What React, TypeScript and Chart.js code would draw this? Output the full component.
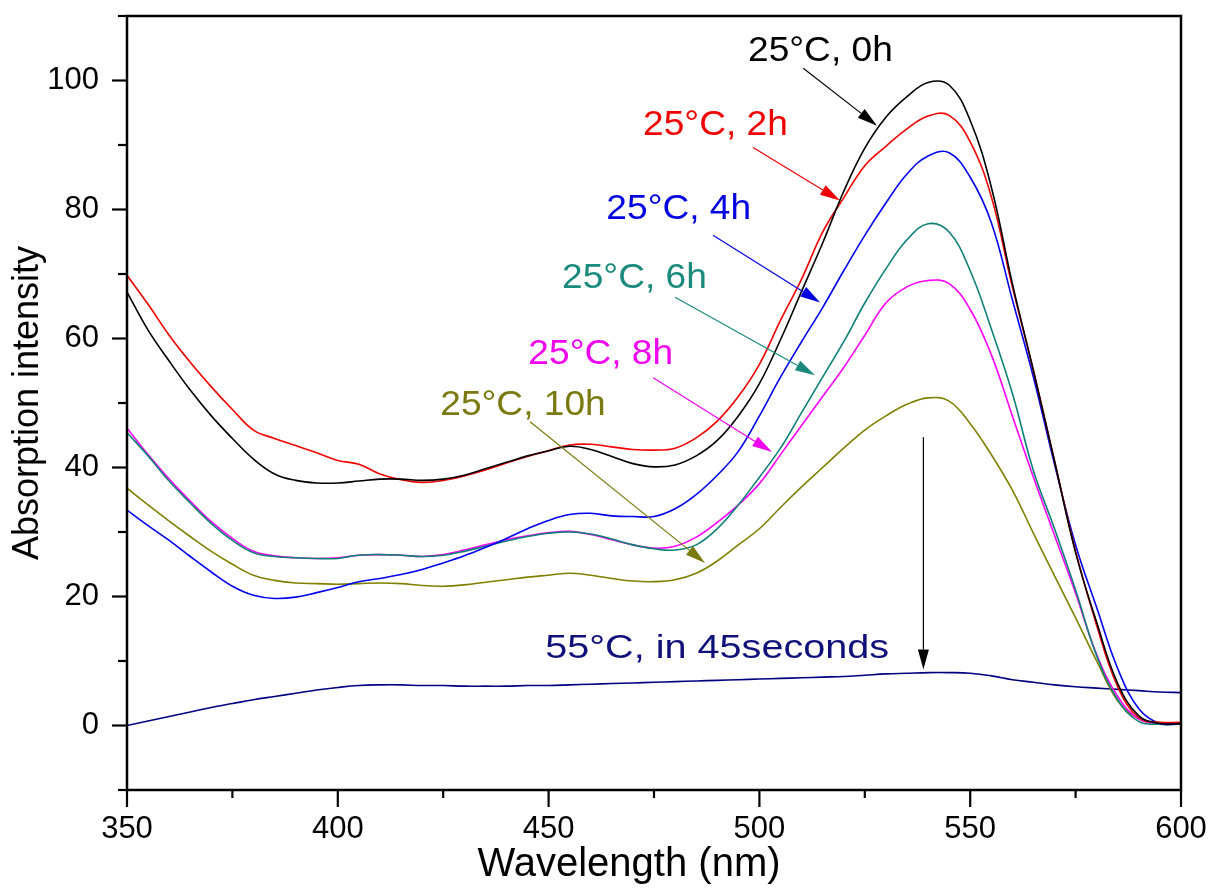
import { useEffect, useRef } from "react";
import { Chart, registerables } from "chart.js";

Chart.register(...registerables);

// ---------- data ----------
const WAVELENGTHS = [
  350, 355, 360, 365, 370, 375, 380, 385, 390, 395,
  400, 405, 410, 415, 420, 425, 430, 435, 440, 445,
  450, 455, 460, 465, 470, 475, 480, 485, 490, 495,
  500, 505, 510, 515, 520, 525, 530, 535, 540, 545,
  550, 555, 560, 565, 570, 575, 580, 585, 590, 595, 600,
];

const ABS_25C_0H = [
  67.2, 61.3, 56.5, 52.0, 48.0, 44.5, 41.3, 39.0, 38.0, 37.6,
  37.6, 37.9, 38.2, 38.2, 38.0, 38.2, 38.8, 39.8, 40.8, 41.8,
  42.6, 43.3, 42.8, 41.7, 40.6, 40.1, 40.4, 41.8, 44.2, 48.0,
  53.0, 59.8, 67.3, 74.8, 82.8, 89.5, 94.3, 97.5, 99.7, 99.3,
  93.8, 83.5, 68.5, 55.0, 41.0, 26.8, 16.0, 6.5, 1.5, 0.3, 0.3,
];

const ABS_25C_2H = [
  69.8, 65.3, 60.5, 56.3, 52.5, 49.0, 45.8, 44.5, 43.4, 42.3,
  41.1, 40.5, 39.0, 38.1, 37.7, 38.0, 38.7, 39.6, 40.7, 41.7,
  42.6, 43.5, 43.6, 43.2, 42.8, 42.7, 43.0, 44.6, 47.2, 51.0,
  56.0, 62.8, 69.2, 76.5, 81.8, 86.8, 89.8, 92.5, 94.5, 94.6,
  90.5, 82.0, 68.0, 55.0, 41.0, 27.0, 15.5, 6.0, 1.2, 0.5, 0.5,
];

const ABS_25C_4H = [
  33.4, 31.0, 28.7, 26.2, 23.8, 21.6, 20.2, 19.7, 19.9, 20.6,
  21.4, 22.3, 22.8, 23.4, 24.2, 25.2, 26.3, 27.6, 29.0, 30.5,
  31.8, 32.7, 32.9, 32.5, 32.4, 32.4, 33.6, 35.8, 38.8, 42.5,
  48.0, 54.0, 59.5, 64.8, 70.5, 76.0, 81.0, 85.5, 88.3, 88.8,
  85.0, 78.0, 66.0, 54.0, 40.5, 28.0, 18.3, 8.8, 2.6, 0.3, 0.3,
];

const ABS_25C_6H = [
  45.4, 41.8, 37.9, 34.5, 31.3, 28.7, 26.8, 26.2, 26.0, 25.9,
  25.9, 26.4, 26.5, 26.4, 26.2, 26.4, 27.0, 27.8, 28.6, 29.3,
  29.8, 30.0, 29.7, 28.9, 28.0, 27.4, 27.2, 28.0, 30.5, 34.2,
  38.5, 43.0, 48.5, 54.0, 59.5, 65.5, 70.8, 75.3, 77.8, 76.5,
  70.5, 61.5, 51.5, 39.5, 30.5, 21.0, 10.8, 4.0, 0.6, 0.2, 0.2,
];

const ABS_25C_8H = [
  46.1, 42.0, 38.2, 34.8, 31.6, 29.0, 27.0, 26.3, 26.0, 25.9,
  26.0, 26.4, 26.5, 26.4, 26.2, 26.5, 27.2, 28.0, 28.8, 29.4,
  29.9, 30.1, 29.6, 28.8, 28.0, 27.5, 27.8, 29.2, 31.5, 34.2,
  37.5, 42.0, 46.5, 51.0, 55.5, 60.5, 65.5, 68.0, 69.0, 68.5,
  64.5, 57.5, 48.0, 38.5, 29.5, 20.5, 11.0, 4.5, 1.0, 0.3, 0.3,
];

const ABS_25C_10H = [
  36.8, 34.2, 31.7, 29.3, 27.0, 25.0, 23.3, 22.5, 22.1, 22.0,
  21.9, 22.0, 22.1, 22.0, 21.7, 21.6, 21.8, 22.2, 22.6, 23.0,
  23.3, 23.6, 23.3, 22.8, 22.4, 22.3, 22.6, 23.6, 25.5, 28.0,
  30.5, 33.8, 37.0, 40.0, 43.0, 45.8, 48.0, 49.8, 50.8, 50.3,
  46.8, 42.0, 36.5, 29.8, 23.2, 16.7, 10.0, 3.8, 1.0, 0.3, 0.3,
];

const ABS_55C_45S = [
  0.0, 0.7, 1.4, 2.1, 2.8, 3.4, 4.0, 4.5, 5.0, 5.5,
  5.9, 6.2, 6.3, 6.3, 6.2, 6.2, 6.1, 6.1, 6.1, 6.2,
  6.2, 6.3, 6.4, 6.5, 6.6, 6.7, 6.8, 6.9, 7.0, 7.1,
  7.2, 7.3, 7.4, 7.5, 7.6, 7.8, 8.0, 8.1, 8.2, 8.2,
  8.1, 7.7, 7.1, 6.7, 6.3, 6.0, 5.8, 5.6, 5.4, 5.2, 5.1,
];

const SERIES_NAMES = [
  "25°C, 0h",
  "25°C, 2h",
  "25°C, 4h",
  "25°C, 6h",
  "25°C, 8h",
  "25°C, 10h",
  "55°C, in 45seconds",
];

const X_TICK_LABELS = ["350", "400", "450", "500", "550", "600"];
const Y_TICK_LABELS = ["0", "20", "40", "60", "80", "100"];

const X_TITLE = "Wavelength (nm)";
const Y_TITLE = "Absorption intensity";

// annotation label anchors (data units) and arrows (data units)
const LABEL_X = [497.3, 472.4, 463.7, 453.2, 445.2, 424.3, 449.2];
const LABEL_Y = [103.1, 91.5, 78.6, 67.8, 56.1, 48.1, 10.5];
const ARROW_FROM_X = [510.4, 498.5, 489.0, 480.0, 474.8, 445.6, 538.9];
const ARROW_FROM_Y = [101.9, 89.6, 76.0, 66.4, 53.9, 47.1, 44.7];
const ARROW_TO_X = [527.9, 519.1, 514.4, 513.2, 503.0, 487.1, 538.9];
const ARROW_TO_Y = [93.0, 81.4, 65.6, 54.3, 42.4, 25.2, 8.7];

// ---------- styles ----------
const FONT = '"Liberation Sans", Arial, Helvetica, sans-serif';
const LINE_COLORS = ["#000000", "#f00000", "#0000f0", "#0e8078", "#ff00ff", "#808000", "#000080"];
const LABEL_COLORS = ["#000000", "#f00000", "#0000e0", "#1a8a7c", "#f000f0", "#7a7a10", "#10107a"];
const ARROW_COLORS = ["#000000", "#f00000", "#0000e0", "#1a8a7c", "#f000f0", "#7a7a10", "#000000"];
const LABEL_SIZES = [35, 35, 35, 35, 35, 35, 33];
const LABEL_STRETCH = [1.06, 1.06, 1.06, 1.06, 1.06, 1.06, 1.2];

const X_MIN = 350, X_MAX = 600, X_MINOR = 25, X_MAJOR = 50;
const Y_MIN = -10, Y_MAX = 110, Y_MINOR = 10, Y_MAJOR = 20;

function drawArrow(ctx: CanvasRenderingContext2D, x1: number, y1: number, x2: number, y2: number, color: string) {
  const ang = Math.atan2(y2 - y1, x2 - x1);
  const headLen = 20;
  const headW = 5.5;
  const bx = x2 - headLen * Math.cos(ang);
  const by = y2 - headLen * Math.sin(ang);
  ctx.strokeStyle = color;
  ctx.lineWidth = 1.2;
  ctx.beginPath();
  ctx.moveTo(x1, y1);
  ctx.lineTo(bx, by);
  ctx.stroke();
  ctx.fillStyle = color;
  ctx.beginPath();
  ctx.moveTo(x2, y2);
  ctx.lineTo(bx + headW * Math.sin(ang), by - headW * Math.cos(ang));
  ctx.lineTo(bx - headW * Math.sin(ang), by + headW * Math.cos(ang));
  ctx.closePath();
  ctx.fill();
}

const overlayPlugin = {
  id: "overlay",
  afterDraw(chart: any) {
    const { ctx, chartArea: a, scales } = chart;
    const xs = scales.x;
    const ys = scales.y;
    ctx.save();
    // frame
    ctx.strokeStyle = "#000";
    ctx.lineWidth = 2.5;
    ctx.strokeRect(a.left, a.top, a.right - a.left, a.bottom - a.top);
    // y ticks (outward)
    ctx.lineWidth = 2.2;
    for (let v = Y_MIN; v <= Y_MAX; v += Y_MINOR) {
      const py = ys.getPixelForValue(v);
      const len = v % Y_MAJOR === 0 ? 15 : 9;
      ctx.beginPath();
      ctx.moveTo(a.left - len, py);
      ctx.lineTo(a.left, py);
      ctx.stroke();
    }
    // x ticks (outward)
    for (let v = X_MIN; v <= X_MAX; v += X_MINOR) {
      const px = xs.getPixelForValue(v);
      const len = (v - X_MIN) % X_MAJOR === 0 ? 17 : 8;
      ctx.beginPath();
      ctx.moveTo(px, a.bottom);
      ctx.lineTo(px, a.bottom + len);
      ctx.stroke();
    }
    // x axis title
    ctx.font = `40px ${FONT}`;
    ctx.fillStyle = "#000";
    ctx.textAlign = "center";
    ctx.textBaseline = "middle";
    ctx.fillText(X_TITLE, (a.left + a.right) / 2 - 25, a.bottom + 75);
    // arrows
    for (let i = 0; i < SERIES_NAMES.length; i++) {
      drawArrow(
        ctx,
        xs.getPixelForValue(ARROW_FROM_X[i]),
        ys.getPixelForValue(ARROW_FROM_Y[i]),
        xs.getPixelForValue(ARROW_TO_X[i]),
        ys.getPixelForValue(ARROW_TO_Y[i]),
        ARROW_COLORS[i]
      );
    }
    // labels
    ctx.textAlign = "left";
    ctx.textBaseline = "alphabetic";
    for (let i = 0; i < SERIES_NAMES.length; i++) {
      const px = xs.getPixelForValue(LABEL_X[i]);
      const py = ys.getPixelForValue(LABEL_Y[i]);
      ctx.save();
      ctx.translate(px, py);
      ctx.scale(LABEL_STRETCH[i], 1);
      ctx.font = `${LABEL_SIZES[i]}px ${FONT}`;
      ctx.fillStyle = LABEL_COLORS[i];
      ctx.fillText(SERIES_NAMES[i], 0, 0);
      ctx.restore();
    }
    ctx.restore();
  },
};

export default function App() {
  const canvasRef = useRef<HTMLCanvasElement | null>(null);

  useEffect(() => {
    document.body.style.margin = "0";
    document.body.style.background = "#ffffff";
    const canvas = canvasRef.current;
    if (!canvas) return;

    const seriesValues = [ABS_25C_0H, ABS_25C_2H, ABS_25C_4H, ABS_25C_6H, ABS_25C_8H, ABS_25C_10H, ABS_55C_45S];
    const datasets = seriesValues.map((vals, i) => ({
      label: SERIES_NAMES[i],
      data: WAVELENGTHS.map((w, j) => ({ x: w, y: vals[j] })),
      borderColor: LINE_COLORS[i],
      backgroundColor: LINE_COLORS[i],
      borderWidth: 1.6,
      pointRadius: 0,
      fill: false,
      tension: 0.4,
    }));

    const chart = new Chart(canvas, {
      type: "line",
      data: { datasets },
      plugins: [overlayPlugin],
      options: {
        animation: false,
        responsive: true,
        maintainAspectRatio: false,
        layout: { padding: { left: 0, top: 16, right: 31, bottom: 0 } },
        plugins: {
          legend: { display: false },
          tooltip: { enabled: false },
        },
        scales: {
          x: {
            type: "linear",
            min: X_MIN,
            max: X_MAX,
            grid: { display: false, drawTicks: false },
            border: { display: false },
            ticks: {
              stepSize: X_MINOR,
              autoSkip: false,
              maxRotation: 0,
              minRotation: 0,
              padding: 21,
              color: "#000",
              font: { family: FONT, size: 31 },
              callback: (v: any) => (X_TICK_LABELS.includes(String(v)) ? String(v) : null),
            },
            title: { display: false, text: X_TITLE },
            afterFit: (s: any) => {
              s.height = 104;
              s.paddingLeft = 0;
              s.paddingRight = 0;
            },
          },
          y: {
            type: "linear",
            min: Y_MIN,
            max: Y_MAX,
            grid: { display: false, drawTicks: false },
            border: { display: false },
            ticks: {
              stepSize: Y_MINOR,
              autoSkip: false,
              padding: 28,
              color: "#000",
              font: { family: FONT, size: 31 },
              callback: (v: any) => (Y_TICK_LABELS.includes(String(v)) ? String(v) : null),
            },
            title: {
              display: true,
              text: Y_TITLE,
              color: "#000",
              font: { family: FONT, size: 36 },
              padding: { top: 6, bottom: 0 },
            },
            afterFit: (s: any) => {
              s.width = 127;
              s.paddingTop = 0;
              s.paddingBottom = 0;
            },
          },
        },
      },
    });

    return () => chart.destroy();
  }, []);

  return (
    <div style={{ width: 1212, height: 894, position: "relative", background: "#fff" }}>
      <canvas ref={canvasRef} />
    </div>
  );
}
